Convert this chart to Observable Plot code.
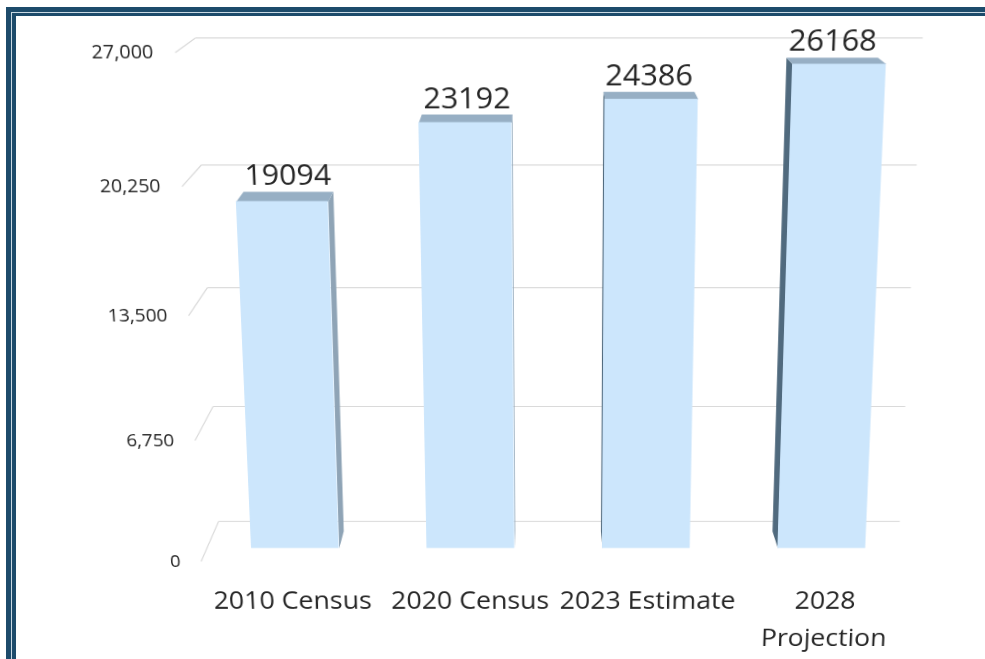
<!DOCTYPE html>
<html><head><meta charset="utf-8">
<script src="https://cdn.jsdelivr.net/npm/d3@7"></script>
<script src="https://cdn.jsdelivr.net/npm/@observablehq/plot@0.6"></script>
<style>
html,body{margin:0;padding:0;background:#fff;overflow:hidden;}
#wrap{position:relative;width:985px;height:659px;overflow:hidden;background:#fff;}
#chart{position:absolute;left:0;top:0;}
#chart svg{display:block;transform-origin:562px 0px;transform:perspective(1500px) rotateX(-11.09deg);}
.band{position:absolute;border-style:solid;border-right:none;border-bottom:none;width:3000px;height:3000px;}
</style></head><body>
<div id="wrap"><div id="chart"></div>
<div class="band" style="left:6px;top:7px;border-left-width:5px;border-top-width:5px;border-color:#1d4b6b"></div>
<div class="band" style="left:11px;top:12px;border-left-width:1px;border-top-width:1px;border-color:#c9d9e3"></div>
<div class="band" style="left:12px;top:13px;border-left-width:4px;border-top-width:3px;border-color:#1d4b6b"></div>
</div>
<script>
// ---- data ----
const categories = ["2010 Census", "2020 Census", "2023 Estimate", "2028\nProjection"];
const values = [19094, 23192, 24386, 26168];
const yTicks = [0, 6750, 13500, 20250, 27000];
const yTickLabels = ["0", "6,750", "13,500", "20,250", "27,000"];

// ---- layout / perspective (style) ----
const yMax = 27000;
const xRange = [274.3, 841.3], yRange = [601.5, 48.5];
const pxX = (xRange[1] - xRange[0]) / (categories.length - 1);
const pxY = (yRange[0] - yRange[1]) / yMax;
const vpPx = [540, -210];
const VP = {x: (vpPx[0] - xRange[0]) / pxX, v: (yRange[0] - vpPx[1]) / pxY};
const depth = {wallFront: 1.019, barFront: 1, barBack: 0.975, wallBack: 0.961};
const wallX = [(178.9 - xRange[0]) / pxX, (939.6 - xRange[0]) / pxX];
const half = 0.25;
const proj = (xi, v, D) => ({x: VP.x + D * (xi - VP.x), y: VP.v + D * (v - VP.v)});

const tops = [], lefts = [], rights = [];
values.forEach((v, i) => {
  const L = i - half, R = i + half, F = depth.barFront, B = depth.barBack;
  const poly = (arr, pts) => pts.forEach(p => arr.push({id: i, ...proj(...p)}));
  poly(tops, [[L, v, F], [R, v, F], [R, v, B], [L, v, B]]);
  if (L > VP.x) poly(lefts, [[L, 0, F], [L, v, F], [L, v, B], [L, 0, B]]);
  if (R < VP.x) poly(rights, [[R, 0, F], [R, v, F], [R, v, B], [R, 0, B]]);
});

const Db = depth.wallBack, Df = depth.wallFront, Bb = depth.barBack;
const txt = "#262626";

const chart = Plot.plot({
  width: 985, height: 740, margin: 0,
  x: {type: "linear", domain: [0, categories.length - 1], range: xRange, axis: null},
  y: {domain: [0, yMax], range: yRange, axis: null},
  style: {fontFamily: "'Open Sans', sans-serif", background: "transparent"},
  marks: [
    // back-wall gridlines
    Plot.link(yTicks, {
      x1: t => proj(wallX[0], t, Db).x, y1: t => proj(wallX[0], t, Db).y,
      x2: t => proj(wallX[1], t, Db).x, y2: t => proj(wallX[1], t, Db).y,
      stroke: "#d9d9d9", strokeWidth: 1.2
    }),
    // side-wall diagonals
    Plot.link(yTicks, {
      x1: t => proj(wallX[0], t, Df).x, y1: t => proj(wallX[0], t, Df).y,
      x2: t => proj(wallX[0], t, Db).x, y2: t => proj(wallX[0], t, Db).y,
      stroke: "#d9d9d9", strokeWidth: 1.2
    }),
    Plot.line(rights, {x: "x", y: "y", z: "id", fill: "#8fa4b6", stroke: "none"}),
    Plot.line(lefts, {x: "x", y: "y", z: "id", fill: "#506a7e", stroke: "none"}),
    Plot.line(tops, {x: "x", y: "y", z: "id", fill: "#97afc4", stroke: "none"}),
    // bar front faces
    Plot.rect(values, {x1: (v, i) => i - half, x2: (v, i) => i + half, y1: 0, y2: v => v, fill: "#cce6fc"}),
    // value labels
    Plot.text(values, {
      x: (v, i) => proj(i, v, Bb).x, y: (v, i) => proj(i, v, Bb).y,
      text: v => String(v), lineAnchor: "bottom", dy: -7, fontSize: 31, fill: txt
    }),
    // y tick labels
    Plot.text(yTicks, {
      x: t => proj(wallX[0], t, Df).x, y: t => proj(wallX[0], t, Df).y,
      text: (t, i) => yTickLabels[i], textAnchor: "end", lineAnchor: "middle", dx: -22, fontSize: 20, fill: txt
    }),
    // category labels
    Plot.text(categories, {
      x: (c, i) => proj(i, 0, Df).x, y: (c, i) => proj(i, 0, Df).y,
      text: c => c, lineAnchor: "top", dy: 25, fontSize: 29, lineHeight: 1.54, fill: txt
    })
  ]
});
document.getElementById("chart").appendChild(chart);
</script>
</body></html>
